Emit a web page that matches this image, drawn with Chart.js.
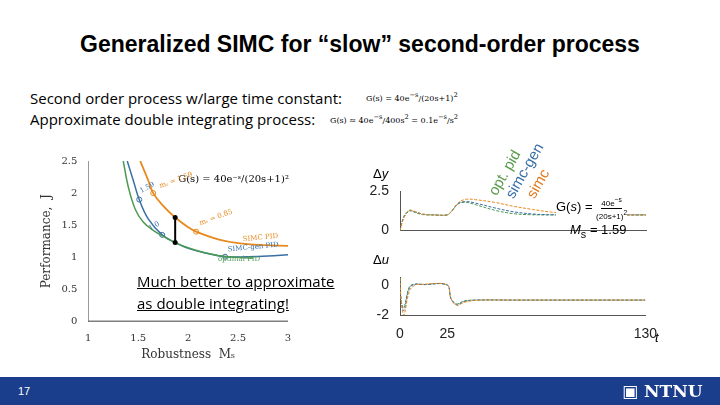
<!DOCTYPE html>
<html><head><meta charset="utf-8">
<script src="https://cdn.jsdelivr.net/npm/chart.js@4"></script>
<style>
body{margin:0;width:720px;height:405px;position:relative;background:#fff;overflow:hidden;font-family:"Liberation Sans",Arial,sans-serif}
.abs{position:absolute}
canvas{position:absolute}
</style></head><body>
<div class="abs" style="left:0;width:720px;top:31px;text-align:center;font-size:23px;font-weight:bold">Generalized SIMC for “slow” second-order process</div>
<div class="abs" style="left:30px;top:88px;font-family:'Open Sans';font-size:15px;line-height:21px">Second order process w/large time constant:<br>Approximate double integrating process:</div>
<div class="abs" style="left:366px;top:91px;font-family:'DejaVu Serif';font-size:8px">G(s) = 40e<sup>−s</sup>/(20s+1)<sup>2</sup></div>
<div class="abs" style="left:330px;top:113px;font-family:'DejaVu Serif';font-size:8px">G(s) ≈ 40e<sup>−s</sup>/400s<sup>2</sup> = 0.1e<sup>−s</sup>/s<sup>2</sup></div>

<canvas id="pareto" style="left:36px;top:152px" width="262" height="210"></canvas>
<div class="abs" style="left:137px;top:270px;font-family:'Open Sans';font-size:15px;line-height:22px;text-decoration:underline">Much better to approximate<br>as double integrating!</div>

<canvas id="resY" style="left:360px;top:180px" width="300" height="62"></canvas>
<canvas id="resU" style="left:360px;top:266px" width="300" height="80"></canvas>
<div class="abs" style="left:373px;top:166px;font-size:13px">Δ<i>y</i></div>
<div class="abs" style="left:373px;top:252px;font-size:13px">Δ<i>u</i></div>
<div class="abs" style="left:655px;top:330px;font-size:13px"><i>t</i></div>
<div class="abs" style="left:499px;top:181px;transform:rotate(-60deg);transform-origin:left bottom;font-size:15px;color:#5a9a4a;white-space:nowrap">opt. pid</div>
<div class="abs" style="left:516px;top:184px;transform:rotate(-60deg);transform-origin:left bottom;font-size:15px;color:#3a6ea5;white-space:nowrap">simc-gen</div>
<div class="abs" style="left:537px;top:184px;transform:rotate(-60deg);transform-origin:left bottom;font-size:15px;color:#e07b20;white-space:nowrap">simc</div>
<div class="abs" style="left:556px;top:195px;font-size:13px;background:#fff">G(<i>s</i>) = <span style="display:inline-block;vertical-align:middle;text-align:center;font-size:8px;line-height:9px"><span style="border-bottom:1px solid #000">40e<sup>−s</sup></span><br>(20s+1)<sup>2</sup></span></div>
<div class="abs" style="left:570px;top:222px;font-size:13px"><i>M</i><sub>s</sub> = 1.59</div>

<div class="abs" style="left:0;top:377px;width:720px;height:28px;background:#1b3e8c"></div>
<div class="abs" style="left:18px;top:385px;color:#fff;font-size:11px">17</div>
<div class="abs" style="left:622px;top:381px;color:#fff;font-size:17px;font-family:'DejaVu Serif';font-weight:bold">▣ NTNU</div>

<script>
const simcX = [1.52, 1.6, 1.65, 1.75, 1.87, 2.0, 2.08, 2.3, 2.5, 2.75, 3.0];
const simcJ = [2.5, 2.2, 2.0, 1.8, 1.62, 1.47, 1.4, 1.28, 1.22, 1.19, 1.18];
const genX = [1.39, 1.45, 1.51, 1.6, 1.74, 1.87, 2.0, 2.2, 2.37, 2.6, 2.8, 3.0];
const genJ = [2.5, 2.2, 1.9, 1.6, 1.35, 1.23, 1.14, 1.06, 1.01, 1.01, 1.02, 1.04];
const optX = [1.35, 1.4, 1.47, 1.55, 1.65, 1.75, 1.87, 2.0, 2.2, 2.4, 2.65];
const optJ = [2.5, 2.1, 1.75, 1.55, 1.42, 1.33, 1.23, 1.15, 1.06, 1.01, 0.99];
const simcMarkX = [1.65, 2.08], simcMarkJ = [2.0, 1.4];
const genMarkX = [1.51, 1.74, 2.37], genMarkJ = [1.9, 1.35, 1.01];
const arrowX = [1.87, 1.87], arrowJ = [1.23, 1.62];
const msTicks = [1, 1.5, 2, 2.5, 3];
const jTicks = [0, 0.5, 1, 1.5, 2, 2.5];

const tY = [0, 2, 5, 8, 12, 18, 25, 27, 31, 35, 40, 50, 60, 70, 80, 95, 110, 130];
const ySimc = [0, 0.8, 1.28, 1.22, 1.05, 1.0, 1.0, 1.2, 1.8, 2.0, 1.97, 1.8, 1.55, 1.35, 1.18, 1.03, 1.0, 1.0];
const yGen = [0, 0.85, 1.25, 1.2, 1.05, 1.0, 1.0, 1.2, 1.75, 1.85, 1.75, 1.45, 1.2, 1.06, 1.01, 1.0, 1.0, 1.0];
const yOpt = [0, 0.9, 1.3, 1.15, 1.02, 1.0, 1.0, 1.2, 1.72, 1.8, 1.65, 1.3, 1.08, 1.01, 1.0, 1.0, 1.0, 1.0];
const tU = [0, 0.5, 2, 5, 8, 12, 25, 27, 30, 34, 40, 60, 130];
const uSimc = [0.45, -0.8, -2.0, -0.4, 0.0, 0.05, 0.0, -0.9, -1.35, -1.15, -1.02, -1.0, -1.0];
const uGen = [0.45, -0.9, -1.7, -0.2, 0.05, 0.03, 0.0, -0.9, -1.3, -1.1, -1.0, -1.0, -1.0];
const uOpt = [0.45, -1.0, -1.5, -0.1, 0.05, 0.02, 0.0, -0.9, -1.25, -1.05, -1.0, -1.0, -1.0];

const ORANGE = '#e8891e', BLUE = '#3a6ea5', GREEN = '#4a9a52';
const zip = (xs, ys) => xs.map((x, i) => ({x, y: ys[i]}));
const serif = {family: 'DejaVu Serif', size: 10};

const labelPlugin = {
  id: 'labels',
  afterDatasetsDraw(chart) {
    const {ctx, scales: {x, y}} = chart;
    const put = (px, py, txt, col, rot, size) => {
      ctx.save();
      ctx.translate(x.getPixelForValue(px), y.getPixelForValue(py));
      ctx.rotate(rot);
      ctx.fillStyle = col;
      ctx.font = size + 'px DejaVu Serif';
      ctx.fillText(txt, 0, 0);
      ctx.restore();
    };
    put(1.9, 2.17, 'G(s) = 40e⁻ˢ/(20s+1)²', '#000', 0, 10);
    put(1.72, 2.08, 'mₛ = 1.59', ORANGE, -0.35, 7);
    put(2.12, 1.5, 'mₛ = 0.85', ORANGE, -0.35, 7);
    put(2.55, 1.25, 'SIMC PID', ORANGE, -0.1, 7);
    put(2.4, 1.09, 'SIMC-gen PID', BLUE, -0.1, 7);
    put(2.3, 0.94, 'optimal PID', GREEN, 0, 7);
    put(1.53, 2.0, '1.59', BLUE, -0.5, 7);
    put(1.62, 1.42, '1.0', BLUE, -0.5, 7);
    const ax = x.getPixelForValue(1.87);
    [1.23, 1.62].forEach(v => {
      ctx.beginPath(); ctx.arc(ax, y.getPixelForValue(v), 2.5, 0, 7); ctx.fillStyle = '#000'; ctx.fill();
    });
  }
};

new Chart(document.getElementById('pareto'), {
  type: 'scatter',
  data: {datasets: [
    {data: zip(optX, optJ), showLine: true, borderColor: GREEN, borderWidth: 1.5, pointRadius: 0, tension: 0.4},
    {data: zip(genX, genJ), showLine: true, borderColor: BLUE, borderWidth: 1.5, pointRadius: 0, tension: 0.4},
    {data: zip(simcX, simcJ), showLine: true, borderColor: ORANGE, borderWidth: 1.8, pointRadius: 0, tension: 0.4},
    {data: zip(simcMarkX, simcMarkJ), pointRadius: 2.5, borderColor: ORANGE, backgroundColor: '#fff', borderWidth: 1},
    {data: zip(genMarkX, genMarkJ), pointRadius: 2.5, borderColor: BLUE, backgroundColor: '#fff', borderWidth: 1},
    {data: zip(arrowX, arrowJ), showLine: true, borderColor: '#000', borderWidth: 2, pointRadius: 0},
    {data: zip([1, 3], [0, 0]), showLine: true, borderColor: '#000', borderWidth: 1.5, pointRadius: 0}
  ]},
  options: {
    responsive: false, animation: false, events: [],
    layout: {padding: {top: 8, right: 10}},
    plugins: {legend: {display: false}, tooltip: {enabled: false}},
    scales: {
      x: {type: 'linear', min: 1, max: 3, afterBuildTicks: a => { a.ticks = msTicks.map(v => ({value: v})); },
        grid: {display: false}, border: {display: false},
        ticks: {font: serif, color: '#333', callback: v => String(v)},
        title: {display: true, text: 'Robustness  Mₛ', font: {family: 'DejaVu Serif', size: 12}, color: '#333', padding: 0}},
      y: {min: 0, max: 2.5, afterBuildTicks: a => { a.ticks = jTicks.map(v => ({value: v})); },
        grid: {display: false}, border: {color: '#999'},
        ticks: {font: serif, color: '#333', callback: v => String(v)},
        title: {display: true, text: 'Performance,  J', font: {family: 'DejaVu Serif', size: 12}, color: '#333'}}
    }
  },
  plugins: [labelPlugin]
});

function response(id, t, s1, s2, s3, ymin, ymax, ticks, xlab, top) {
  const ds = (ys, col) => ({data: zip(t, ys), showLine: true, borderColor: col, borderWidth: 1, borderDash: [3, 1.5], pointRadius: 0, tension: 0.35});
  new Chart(document.getElementById(id), {
    type: 'scatter',
    data: {datasets: [ds(s1, ORANGE), ds(s2, BLUE), ds(s3, GREEN)]},
    options: {
      responsive: false, animation: false, events: [],
      layout: {padding: {right: 14, top: top}},
      plugins: {legend: {display: false}, tooltip: {enabled: false}},
      scales: {
        x: {type: 'linear', min: 0, max: 130, afterBuildTicks: a => { a.ticks = [0, 25, 130].map(v => ({value: v})); },
          grid: {display: false}, border: {color: '#555'},
          ticks: {display: xlab, font: {size: 14}, color: '#222'}},
        y: {min: ymin, max: ymax, afterBuildTicks: a => { a.ticks = ticks.map(v => ({value: v})); },
          afterFit: a => { a.width = 40; },
          grid: {display: false}, border: {color: '#555'},
          ticks: {font: {size: 14}, color: '#222'}}
      }
    }
  });
}
response('resY', tY, ySimc, yGen, yOpt, 0, 2.5, [0, 2.5], false, 10);
response('resU', tU, uSimc, uGen, uOpt, -2, 0.5, [-2, 0], true, 8);
</script>
</body></html>
